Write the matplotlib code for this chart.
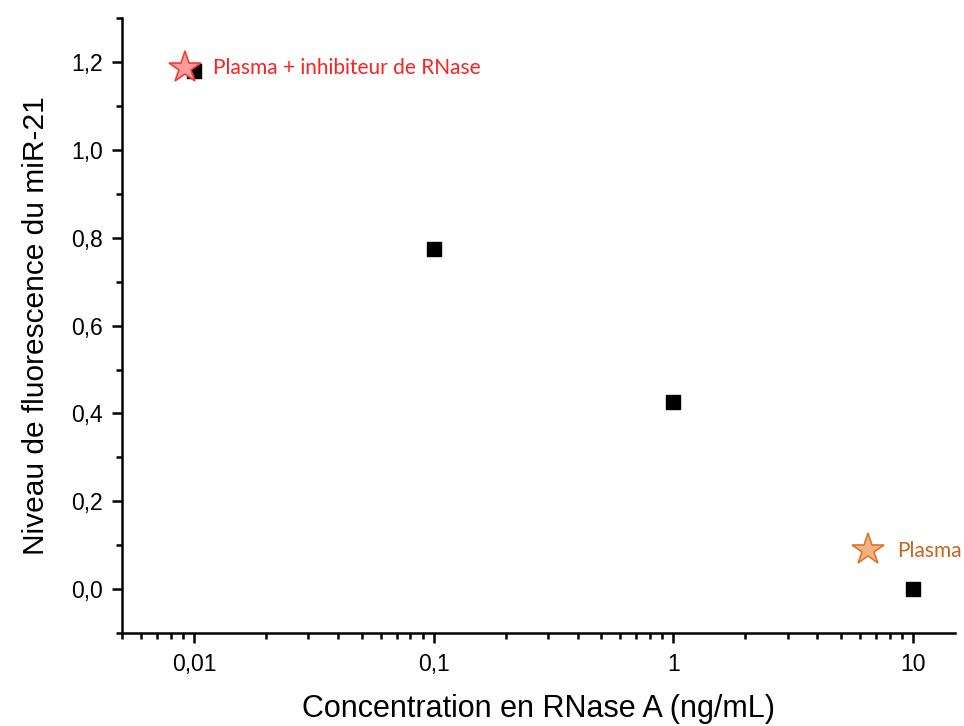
import matplotlib.pyplot as plt
import numpy as np
from matplotlib.ticker import FixedLocator, LogLocator, NullFormatter, MultipleLocator

# data
concentration = [0.01, 0.1, 1, 10]
fluorescence = [1.18, 0.775, 0.425, 0.0]

star_labels = ["Plasma + inhibiteur de RNase", "Plasma"]
star_x = [0.0092, 6.5]
star_y = [1.186, 0.089]

x_ticks = [0.01, 0.1, 1, 10]
x_ticklabels = ["0,01", "0,1", "1", "10"]
y_ticks = [0.0, 0.2, 0.4, 0.6, 0.8, 1.0, 1.2]
y_ticklabels = ["0,0", "0,2", "0,4", "0,6", "0,8", "1,0", "1,2"]

plt.rcParams['font.family'] = ['Liberation Sans', 'DejaVu Sans']

fig = plt.figure(figsize=(9.64, 7.26), dpi=100)
ax = fig.add_axes([0.1266, 0.128, 0.864, 0.847])

ax.scatter(concentration, fluorescence, marker='s', s=9.4**2, color='black', zorder=3)

# stars
ax.plot(star_x[0], star_y[0], marker='*', markersize=24, markerfacecolor='#FF9B9B',
        markeredgecolor='#F03C3C', markeredgewidth=1.2, linestyle='none', zorder=4)
ax.plot(star_x[1], star_y[1], marker='*', markersize=24, markerfacecolor='#F4B183',
        markeredgecolor='#D9782F', markeredgewidth=1.2, linestyle='none', zorder=4)

ax.annotate(star_labels[0], (star_x[0], star_y[0]), xytext=(20, 0), textcoords='offset points',
            ha='left', va='center', fontsize=15, color='#FF2020', family=['Lato', 'DejaVu Sans'])
ax.annotate(star_labels[1], (star_x[1], star_y[1]), xytext=(21, -1), textcoords='offset points',
            ha='left', va='center', fontsize=15, color='#C8651F', family=['Lato', 'DejaVu Sans'])

ax.set_xscale('log')
ax.set_xlim(0.005, 15)
ax.set_ylim(-0.1, 1.3)

ax.xaxis.set_major_locator(FixedLocator(x_ticks))
ax.set_xticklabels(x_ticklabels)
ax.xaxis.set_minor_locator(LogLocator(base=10, subs=np.arange(2, 10)))
ax.xaxis.set_minor_formatter(NullFormatter())

ax.yaxis.set_major_locator(FixedLocator(y_ticks))
ax.set_yticklabels(y_ticklabels)
ax.yaxis.set_minor_locator(MultipleLocator(0.1))

for side in ['top', 'right']:
    ax.spines[side].set_visible(False)
for side in ['left', 'bottom']:
    ax.spines[side].set_linewidth(1.8)

ax.tick_params(which='major', direction='out', length=7, width=1.8, labelsize=16.5, pad=7)
ax.tick_params(which='minor', direction='out', length=4, width=1.8)

ax.set_xlabel("Concentration en RNase A (ng/mL)", fontsize=22, labelpad=13)
ax.set_ylabel("Niveau de fluorescence du miR-21", fontsize=21.5, labelpad=15)

fig.savefig("out.png", dpi=100)
